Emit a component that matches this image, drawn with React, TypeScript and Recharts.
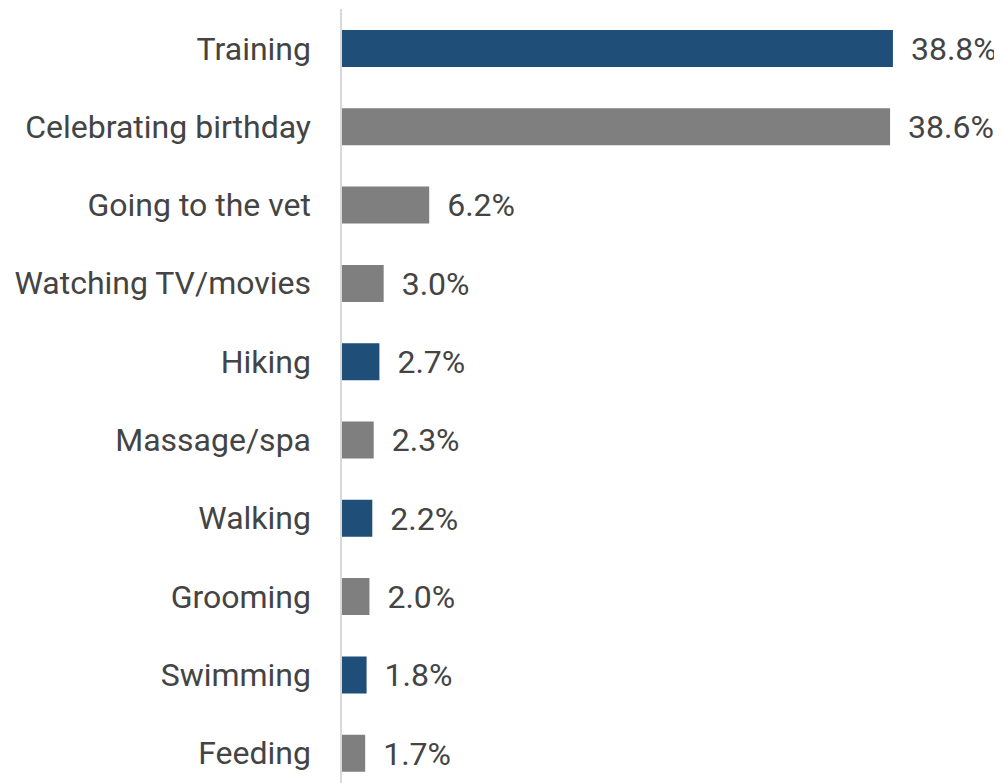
import { BarChart, Bar, XAxis, YAxis, Cell, LabelList } from 'recharts';

const activities = [
  'Training',
  'Celebrating birthday',
  'Going to the vet',
  'Watching TV/movies',
  'Hiking',
  'Massage/spa',
  'Walking',
  'Grooming',
  'Swimming',
  'Feeding',
];

const shares = [38.8, 38.6, 6.2, 3.0, 2.7, 2.3, 2.2, 2.0, 1.8, 1.7];

// activities drawn in the accent colour
const highlighted = ['Training', 'Hiking', 'Walking', 'Swimming'];

const BLUE = '#1F4E79';
const GRAY = '#7F7F7F';
const TEXT = '#444444';

const data = activities.map((name, i) => ({ name, value: shares[i] }));

export default function App() {
  return (
    <div style={{ fontFamily: 'Roboto, sans-serif' }}>
      <BarChart
        width={994}
        height={784}
        data={data}
        layout="vertical"
        margin={{ top: 1, right: 92, bottom: 0, left: 0 }}
      >
        <XAxis type="number" domain={[0, 40]} hide />
        <YAxis
          type="category"
          dataKey="name"
          width={333}
          tickLine={false}
          tickSize={0}
          tickMargin={30}
          axisLine={{ stroke: '#D9D9D9', strokeWidth: 2 }}
          tick={{ fill: TEXT, fontSize: 32, fontFamily: 'Roboto' }}
          interval={0}
        />
        <Bar dataKey="value" barSize={37} isAnimationActive={false}>
          {data.map((d) => (
            <Cell key={d.name} fill={highlighted.includes(d.name) ? BLUE : GRAY} />
          ))}
          <LabelList
            dataKey="value"
            position="right"
            offset={18}
            fill={TEXT}
            fontSize={32}
            fontFamily="Roboto"
            formatter={(v: number) => `${v.toFixed(1)}%`}
          />
        </Bar>
      </BarChart>
    </div>
  );
}
